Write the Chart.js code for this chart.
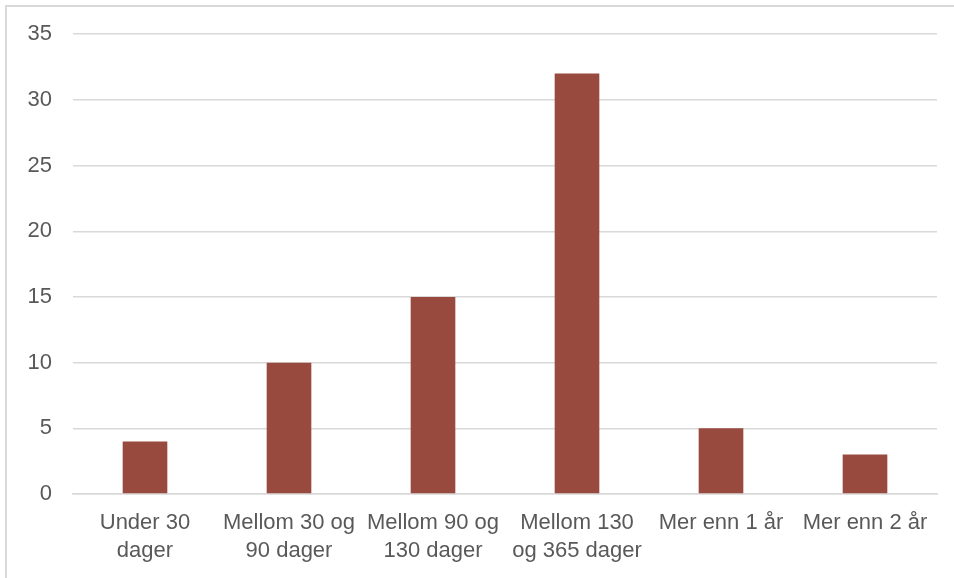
<!DOCTYPE html>
<html>
<head>
<meta charset="utf-8">
<script src="https://cdn.jsdelivr.net/npm/chart.js@4/dist/chart.umd.min.js"></script>
<style>
  html, body { margin: 0; padding: 0; background: #ffffff; }
  #wrap { position: relative; width: 954px; height: 578px; }
  #frame { position: absolute; left: 5px; top: 5px; width: 949px; height: 573px;
           border-left: 2px solid #d9d9d9; border-top: 2px solid #d9d9d9; box-sizing: border-box; }
  canvas { position: absolute; left: 0; top: 0; }
</style>
</head>
<body>
<div id="wrap">
  <div id="frame"></div>
  <canvas id="c" width="954" height="578"></canvas>
</div>
<script>
const categories = [
  ["Under 30", "dager"],
  ["Mellom 30 og", "90 dager"],
  ["Mellom 90 og", "130 dager"],
  ["Mellom 130", "og 365 dager"],
  ["Mer enn 1 år"],
  ["Mer enn 2 år"]
];
const values = [4, 10, 15, 32, 5, 3];
const yTicks = [0, 5, 10, 15, 20, 25, 30, 35];

const FONT = "'Liberation Sans', Arial, sans-serif";

new Chart(document.getElementById('c'), {
  type: 'bar',
  data: {
    labels: categories,
    datasets: [{
      data: values,
      backgroundColor: '#984a3e',
      borderWidth: 0,
      barPercentage: 0.31,
      categoryPercentage: 1
    }]
  },
  options: {
    responsive: false,
    animation: false,
    devicePixelRatio: 1,
    layout: { padding: { top: 33, right: 17, left: 0, bottom: 0 } },
    plugins: { legend: { display: false }, tooltip: { enabled: false } },
    scales: {
      x: {
        grid: { display: false, drawTicks: false },
        border: { display: true, color: '#d9d9d9', width: 1.5 },
        ticks: {
          color: '#595959',
          font: { family: FONT, size: 22, lineHeight: 1.27 },
          padding: 15,
          maxRotation: 0,
          autoSkip: false
        },
        afterFit: (s) => { s.height = 578 - 494; }
      },
      y: {
        min: 0, max: 35,
        afterBuildTicks: (s) => { s.ticks = yTicks.map(v => ({ value: v })); },
        grid: { color: '#d9d9d9', lineWidth: 1.5, drawTicks: false },
        border: { display: false },
        ticks: {
          color: '#595959',
          font: { family: FONT, size: 22 },
          padding: 21
        },
        afterFit: (s) => { s.width = 73; }
      }
    }
  }
});
</script>
</body>
</html>
